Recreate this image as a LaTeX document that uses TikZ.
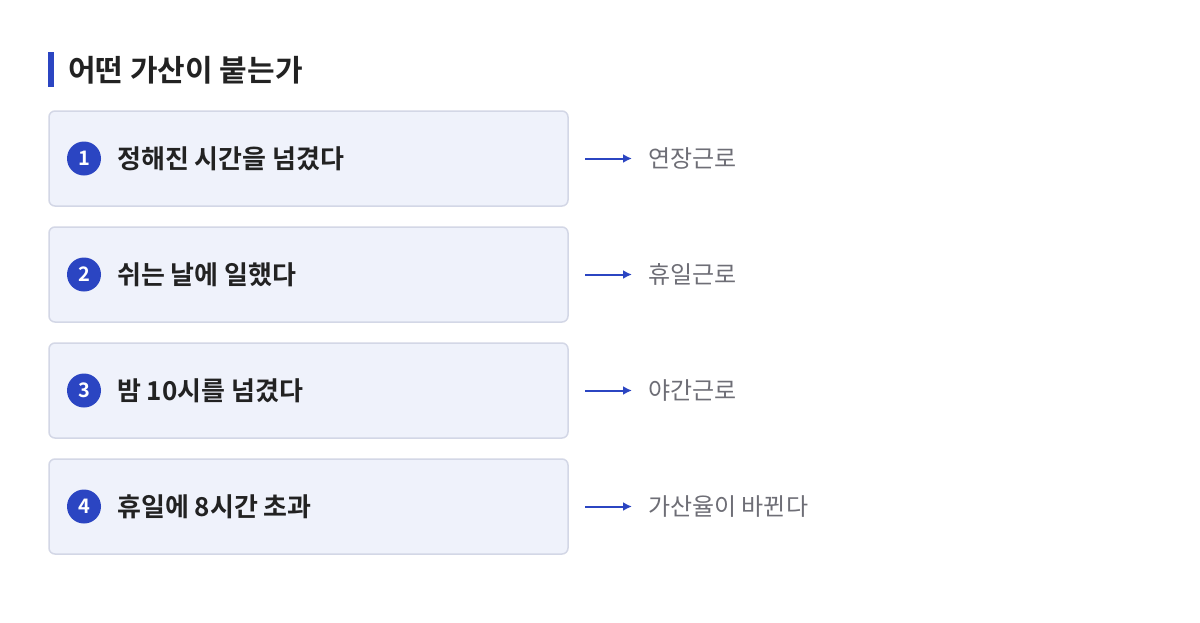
\documentclass[tikz,border=0pt]{standalone}
\usepackage{fontspec}
\setmainfont{Noto Sans CJK KR}
\newfontfamily\kb{Noto Sans CJK KR}[BoldFont={* Bold}]
\definecolor{accent}{HTML}{2B45C2}
\definecolor{boxfill}{HTML}{EFF2FB}
\definecolor{boxdraw}{HTML}{D3D7E6}
\definecolor{ink}{HTML}{222222}
\definecolor{gray}{HTML}{6E6E76}
\begin{document}
\begin{tikzpicture}[x=1pt,y=-1pt,
  card/.style={draw=boxdraw,line width=1.5pt,fill=boxfill,rounded corners=6pt},
  num/.style={circle,fill=accent,minimum size=34pt,inner sep=0pt,text=white,font=\kb\bfseries\fontsize{20}{20}\selectfont},
  main/.style={anchor=west,inner sep=0pt,text=ink,font=\kb\bfseries\fontsize{26}{26}\selectfont},
  lab/.style={anchor=west,inner sep=0pt,text=gray,font=\kb\fontsize{24}{24}\selectfont},
  arr/.style={draw=accent,line width=2pt,-{Latex[length=9pt,width=9pt]}}]
\usetikzlibrary{arrows.meta}
\fill[white] (0,0) rectangle (1200,622);
\useasboundingbox (0,0) rectangle (1200,622);
\fill[accent] (48,52) rectangle (54,87);
\node[anchor=west,inner sep=0pt,text=ink,font=\kb\bfseries\fontsize{30}{30}\selectfont] (title) at (68,70) {어떤 가산이 붙는가};
\foreach \i/\t/\l [count=\k] in {1/정해진 시간을 넘겼다/연장근로,2/쉬는 날에 일했다/휴일근로,3/밤 10시를 넘겼다/야간근로,4/휴일에 8시간 초과/가산율이 바뀐다}{
  \pgfmathsetmacro\yy{158.5+116*(\k-1)}
  \draw[card] (49,\yy-47.5) rectangle (568,\yy+47.5);
  \node[num] (n\k) at (84,\yy) {\i};
  \node[main] (m\k) at (117,\yy) {\t};
  \coordinate (a\k) at (585,\yy);
  \coordinate (b\k) at (632,\yy);
  \draw[arr] (a\k) -- (b\k);
  \node[lab] (l\k) at (648,\yy) {\l};
}
\end{tikzpicture}
\end{document}
